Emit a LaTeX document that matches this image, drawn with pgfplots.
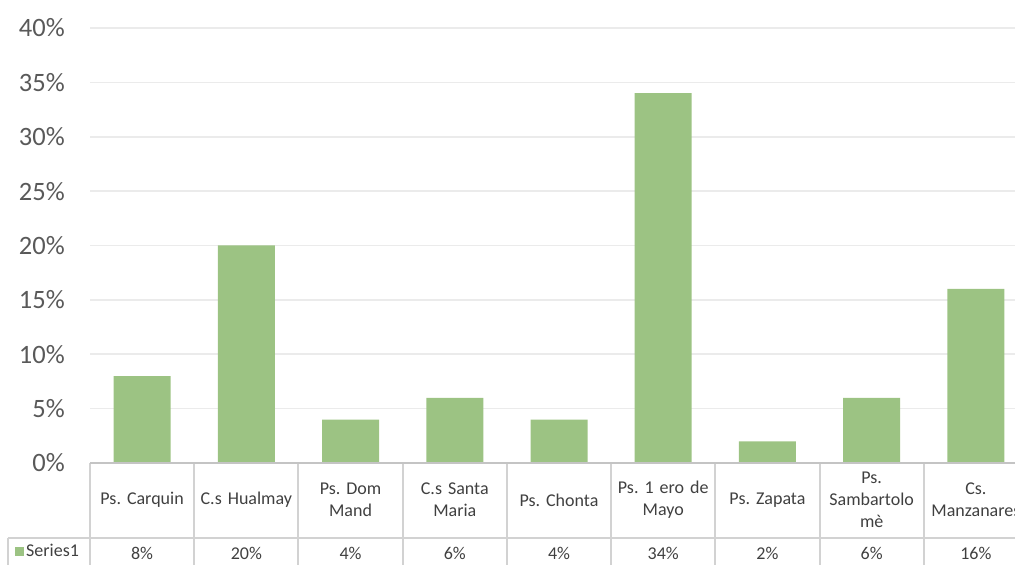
\documentclass[border=0pt]{standalone}
\usepackage{pgfplots}
\pgfplotsset{compat=1.18}
\usepackage{pgfplotstable}
\usepackage{fontspec}
\setmainfont{Carlito}
\frenchspacing

\definecolor{barGreen}{HTML}{9CC383}
\definecolor{gridGrey}{HTML}{EBEBEB}
\definecolor{ruleGrey}{HTML}{D2D2D2}
\definecolor{axisGrey}{HTML}{C4C4C4}
\definecolor{tickText}{HTML}{595959}
\definecolor{cellText}{HTML}{404040}

% share of cases per health post (%)
\pgfplotstableread{
idx share
0 8
1 20
2 4
3 6
4 4
5 34
6 2
7 6
8 16
}\shares

\begin{document}
\begin{tikzpicture}[x=1pt,y=1pt]
\path[use as bounding box] (0,0) rectangle (1015,565);
\clip (0,0) rectangle (1015,565);
\begin{axis}[
  at={(90pt,102pt)}, anchor=south west,
  scale only axis, width=938pt, height=435pt,
  xmin=-0.5, xmax=8.5, ymin=0, ymax=40,
  axis line style={draw=none},
  major tick length=0pt,
  ytick={0,5,...,40},
  yticklabel={\pgfmathprintnumber{\tick}\%},
  /pgf/number format/assume math mode=true,
  ymajorgrids, grid style={gridGrey, line width=1.6pt},
  xtick={0,...,8},
  xticklabels={Ps. Carquin, C.s Hualmay, {Ps. Dom\\Mand}, {C.s Santa\\Maria}, Ps. Chonta, {Ps. 1 ero de\\Mayo}, Ps. Zapata, {Ps.\\Sambartolo\\mè}, {Cs.\\Manzanares}},
  xticklabel style={anchor=center, yshift=-37pt, align=center, text width=100pt, inner sep=0pt,
    font=\fontsize{18}{22}\selectfont, text=cellText},
  yticklabel style={anchor=east, inner sep=0pt, xshift=-25pt,
    font=\fontsize{26.5}{30}\selectfont, text=tickText},
  clip=false,
  legend style={at={(axis description cs:-0.080,-0.2023)}, anchor=west, draw=none, fill=none,
    inner sep=0pt, font=\fontsize{18}{22}\selectfont, text=cellText},
  legend image code/.code={\fill[barGreen] (0pt,-4.5pt) rectangle (9pt,4.5pt);},
]
\addplot[ybar, bar width=57pt, fill=barGreen, draw=none] table[x=idx, y=share]{\shares};
\addlegendentry{Series1}

% value row of the data table
\addplot[forget plot, draw=none, mark=none, point meta=explicit,
  nodes near coords={\pgfmathprintnumber{\pgfplotspointmeta}\%},
  nodes near coords style={anchor=center, yshift=-90pt, inner sep=0pt,
    font=\fontsize{18}{22}\selectfont, text=cellText}]
  table[x=idx, y expr=0, meta=share]{\shares};

% table grid
\pgfplotsinvokeforeach{-0.5,0.5,1.5,2.5,3.5,4.5,5.5,6.5,7.5,8.5}{
  \draw[ruleGrey, line width=2pt] (axis cs:#1,0) -- ([yshift=-115pt]axis cs:#1,0);
}
\draw[ruleGrey, line width=2pt] ([xshift=-82pt,yshift=-75pt]axis cs:-0.5,0) -- ([yshift=-75pt]axis cs:8.5,0);
\draw[ruleGrey, line width=2pt] ([xshift=-82pt,yshift=-75pt]axis cs:-0.5,0) -- ([xshift=-82pt,yshift=-115pt]axis cs:-0.5,0);
\draw[axisGrey, line width=2pt] (axis cs:-0.5,0) -- (axis cs:8.5,0);
\end{axis}
\end{tikzpicture}
\end{document}
